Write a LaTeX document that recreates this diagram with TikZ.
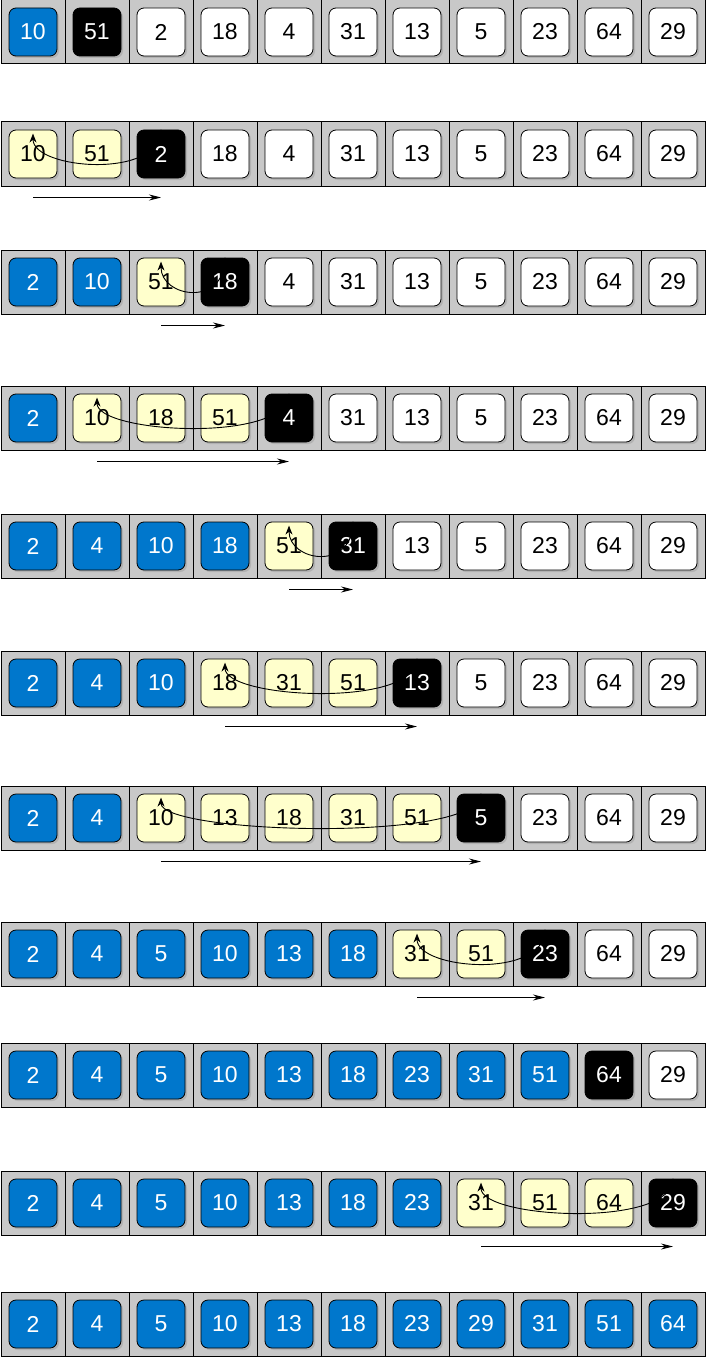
\documentclass[tikz,border=0pt]{standalone}
\usepackage{fontspec}
\setmainfont{Liberation Sans}
\usetikzlibrary{arrows.meta,shadows}
\definecolor{cblue}{HTML}{0077CC}
\definecolor{cyel}{HTML}{FFFFCC}
\definecolor{cgray}{HTML}{C8C8C8}
\tikzset{
  slot/.style={draw=black,fill=cgray,minimum width=64pt,minimum height=64pt,inner sep=0pt,line width=1pt},
  boxB/.style={draw=black,fill=cblue,text=white,rounded corners=7pt,minimum size=48pt,inner sep=0pt,line width=0.8pt,drop shadow={shadow xshift=2pt,shadow yshift=-2pt,opacity=0.3},font=\fontsize{23}{24}\selectfont},
  boxK/.style={boxB,fill=black,text=white},
  boxY/.style={boxB,fill=cyel,text=black},
  boxW/.style={boxB,fill=white,text=black},
  arc/.style={-{Stealth[length=9pt,width=7pt]},line width=0.9pt},
  under/.style={-{Stealth[length=12pt,width=6pt]},line width=0.9pt}
}
\begin{document}
\begin{tikzpicture}[x=1pt,y=-1pt]
\useasboundingbox (0,0) rectangle (710,1362);
\foreach \r/\top/\cells in {
 1/0/{10/B,51/K,2/W,18/W,4/W,31/W,13/W,5/W,23/W,64/W,29/W},
 2/122/{10/Y,51/Y,2/K,18/W,4/W,31/W,13/W,5/W,23/W,64/W,29/W},
 3/250/{2/B,10/B,51/Y,18/K,4/W,31/W,13/W,5/W,23/W,64/W,29/W},
 4/386/{2/B,10/Y,18/Y,51/Y,4/K,31/W,13/W,5/W,23/W,64/W,29/W},
 5/514/{2/B,4/B,10/B,18/B,51/Y,31/K,13/W,5/W,23/W,64/W,29/W},
 6/651/{2/B,4/B,10/B,18/Y,31/Y,51/Y,13/K,5/W,23/W,64/W,29/W},
 7/786/{2/B,4/B,10/Y,13/Y,18/Y,31/Y,51/Y,5/K,23/W,64/W,29/W},
 8/922/{2/B,4/B,5/B,10/B,13/B,18/B,31/Y,51/Y,23/K,64/W,29/W},
 9/1043/{2/B,4/B,5/B,10/B,13/B,18/B,23/B,31/B,51/B,64/K,29/W},
 10/1171/{2/B,4/B,5/B,10/B,13/B,18/B,23/B,31/Y,51/Y,64/Y,29/K},
 11/1292/{2/B,4/B,5/B,10/B,13/B,18/B,23/B,29/B,31/B,51/B,64/B}}{
  \foreach \v/\c [count=\i from 0] in \cells {
    \node[slot] (s\r c\i) at (33+64*\i,\top+32) {};
    \node[box\c] (r\r c\i) at (33+64*\i,\top+32) {\v};
  }
}
\foreach \r/\s/\d in {2/2/0,3/3/2,4/4/1,5/5/4,6/6/3,7/7/2,8/8/6,10/10/7}{
  \draw[arc] (r\r c\s.north) .. controls ([yshift=-50pt]r\r c\s.north) and ([yshift=-40pt]r\r c\d.north) .. ([yshift=-4pt]r\r c\d.north);
  \draw[under] ([yshift=-11pt]s\r c\d.south) -- ([yshift=-11pt]s\r c\s.south);
}
\end{tikzpicture}
\end{document}
